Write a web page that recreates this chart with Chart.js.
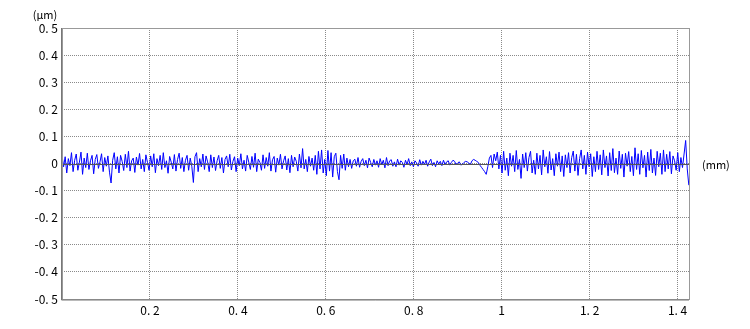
<!DOCTYPE html>
<html>
<head>
<meta charset="utf-8">
<script src="https://cdn.jsdelivr.net/npm/chart.js@4"></script>
<style>
html,body{margin:0;padding:0;background:#fff;}
#wrap{width:750px;height:329px;}
</style>
</head>
<body>
<div id="wrap"><canvas id="c" width="750" height="329"></canvas></div>
<script>
// sampling interval along the profile (mm)
const sampleStep = 0.0036;
// roughness profile heights (µm)
const profile = [
0.030,-0.012,0.025,-0.035,0.018,-0.008,0.040,-0.030,0.012,0.035,-0.025,0.005,0.042,-0.040,0.020,-0.015,0.038,-0.022,0.010,0.030,
-0.038,0.015,0.033,-0.018,0.006,0.036,-0.030,0.022,-0.010,0.028,-0.032,-0.072,0.012,0.040,-0.020,0.025,-0.035,0.030,0.008,-0.026,
0.034,-0.015,0.045,-0.028,0.010,0.020,-0.033,0.024,-0.006,0.037,-0.020,0.015,-0.030,0.032,0.004,-0.025,0.028,-0.012,0.036,-0.034,
0.018,-0.008,0.030,-0.022,0.040,-0.015,0.010,-0.036,0.026,0.005,-0.020,0.033,-0.028,0.015,0.038,-0.018,0.022,-0.030,0.012,0.030,
-0.025,0.020,-0.010,-0.070,0.025,0.040,-0.030,0.018,-0.012,0.035,-0.022,0.028,0.006,-0.030,0.032,-0.015,0.024,-0.026,0.010,0.030,
-0.018,0.022,-0.035,0.015,0.028,-0.012,0.034,-0.024,0.008,0.025,-0.030,0.020,-0.008,0.036,-0.020,0.012,-0.028,0.030,0.005,-0.022,
0.026,-0.014,0.038,-0.030,0.016,0.004,-0.025,0.032,-0.018,0.022,-0.010,0.040,-0.028,0.014,0.026,-0.032,0.020,-0.006,0.034,-0.020,
0.010,0.028,-0.024,0.018,-0.034,0.030,-0.012,0.024,0.008,-0.028,0.035,-0.016,0.055,-0.020,0.015,-0.030,0.026,-0.010,0.020,-0.025,
0.030,-0.040,0.045,-0.020,0.050,-0.035,0.015,-0.045,0.048,-0.028,0.040,-0.050,0.025,0.038,-0.030,-0.060,0.030,-0.018,0.035,-0.025,
0.020,-0.012,0.015,-0.018,0.010,0.016,-0.010,0.022,-0.014,0.008,0.018,-0.008,0.012,-0.016,0.020,0.004,-0.012,0.015,-0.006,0.010,
-0.014,0.018,-0.004,0.012,-0.016,0.022,-0.008,0.010,0.014,-0.010,0.006,-0.012,0.016,-0.006,0.010,0.004,-0.014,0.012,-0.004,0.018,
-0.008,0.006,-0.012,0.010,0.002,-0.010,0.014,-0.006,0.008,-0.004,0.012,-0.010,0.006,0.016,-0.008,0.004,-0.012,0.010,-0.002,0.008,
-0.008,0.012,-0.004,0.006,0.010,-0.006,0.004,0.012,0.008,-0.004,0.002,0.006,-0.006,-0.002,0.004,0.008,0.006,0.002,-0.004,0.010,
0.015,0.012,0.008,0.004,-0.006,-0.014,-0.022,-0.030,-0.040,-0.012,0.020,0.030,-0.015,0.035,0.010,0.042,-0.020,0.030,-0.035,0.045,
-0.025,0.020,-0.045,0.038,-0.010,0.030,-0.030,0.048,-0.022,0.015,-0.055,0.035,-0.015,0.040,-0.028,0.022,0.045,-0.035,0.012,-0.040,
0.038,-0.020,0.030,-0.042,0.050,-0.012,0.025,-0.036,0.044,-0.024,0.018,-0.045,0.036,-0.010,0.042,-0.030,0.028,-0.048,0.032,-0.015,
0.040,-0.035,0.022,0.046,-0.028,0.034,-0.044,0.018,0.050,-0.020,0.030,-0.040,0.042,-0.012,0.036,-0.048,0.025,-0.030,0.045,-0.022,
0.032,-0.042,0.050,-0.015,0.028,-0.046,0.040,-0.026,0.055,-0.034,0.020,-0.040,0.046,-0.018,0.034,-0.050,0.038,-0.010,0.044,-0.030,
0.026,-0.045,0.058,-0.022,0.036,-0.040,0.048,-0.016,0.030,-0.050,0.042,-0.026,0.052,-0.035,0.020,-0.044,0.045,-0.012,0.038,-0.040,
0.050,-0.030,0.034,-0.020,0.044,-0.038,0.028,0.010,-0.025,0.040,-0.030,0.022,-0.015,0.035,0.085,-0.020,-0.080
];
const xMin = 0, xMax = 1.426, xStep = 0.2;
const yMin = -0.5, yMax = 0.5, yStep = 0.1;
const yUnit = '(μm)';
const xUnit = '(mm)';

const points = profile.map((v, i) => ({x: i * sampleStep, y: v}));

function fmt(v) {
  const r = Math.round(v * 10) / 10;
  if (Math.abs(r) < 1e-9) return '0';
  let s = Math.abs(r).toFixed(1);
  if (s.endsWith('.0')) s = s.slice(0, -2);
  s = s.replace('.', '. ');
  return (r < 0 ? '-' : '') + s;
}

const FONT = '"Noto Sans CJK JP", "DejaVu Sans", sans-serif';

const framePlugin = {
  id: 'frame',
  afterDatasetsDraw(chart) {
    const {ctx, chartArea: a, scales} = chart;
    ctx.save();
    // zero line
    const y0 = scales.y.getPixelForValue(0);
    ctx.strokeStyle = '#555';
    ctx.lineWidth = 1;
    ctx.beginPath();
    ctx.moveTo(a.left, Math.round(y0) + 0.5);
    ctx.lineTo(a.right, Math.round(y0) + 0.5);
    ctx.stroke();
    // frame
    ctx.strokeStyle = '#999';
    ctx.strokeRect(Math.round(a.left) + 0.5, Math.round(a.top) + 0.5, Math.round(a.right - a.left), Math.round(a.bottom - a.top));
    ctx.strokeStyle = '#777';
    ctx.beginPath();
    ctx.moveTo(Math.round(a.left) - 0.5, a.top);
    ctx.lineTo(Math.round(a.left) - 0.5, a.bottom + 1);
    ctx.lineTo(a.right, a.bottom + 1);
    ctx.stroke();
    // unit labels
    ctx.fillStyle = '#000';
    ctx.font = '11px ' + FONT;
    ctx.textAlign = 'center';
    ctx.textBaseline = 'middle';
    ctx.fillText(yUnit, 45, 15);
    ctx.textAlign = 'left';
    ctx.fillText(xUnit, a.right + 13, y0 + 1);
    ctx.restore();
  }
};

new Chart(document.getElementById('c'), {
  type: 'scatter',
  data: {
    datasets: [{
      data: points,
      showLine: true,
      borderColor: '#0000ff',
      borderWidth: 1,
      pointRadius: 0,
      tension: 0
    }]
  },
  options: {
    responsive: false,
    animation: false,
    events: [],
    layout: {padding: {left: 0, right: 61, top: 28, bottom: 0}},
    plugins: {legend: {display: false}, tooltip: {enabled: false}},
    scales: {
      x: {
        type: 'linear',
        min: xMin, max: xMax,
        ticks: {
          stepSize: xStep,
          includeBounds: false,
          color: '#000',
          font: {family: FONT, size: 12},
          padding: 4,
          maxRotation: 0,
          callback: (v) => (Math.abs(v) < 1e-9 ? '' : fmt(v))
        },
        grid: {color: '#8a8a8a', lineWidth: 1, drawTicks: false},
        border: {display: false, dash: [1, 1]},
        afterFit: (s) => { s.height = 30; }
      },
      y: {
        type: 'linear',
        min: yMin, max: yMax,
        ticks: {
          stepSize: yStep,
          color: '#000',
          font: {family: FONT, size: 12},
          padding: 4,
          callback: (v) => fmt(v)
        },
        grid: {color: '#8a8a8a', lineWidth: 1, drawTicks: false},
        border: {display: false, dash: [1, 1]},
        afterFit: (s) => { s.width = 62; }
      }
    }
  },
  plugins: [framePlugin]
});
</script>
</body>
</html>
